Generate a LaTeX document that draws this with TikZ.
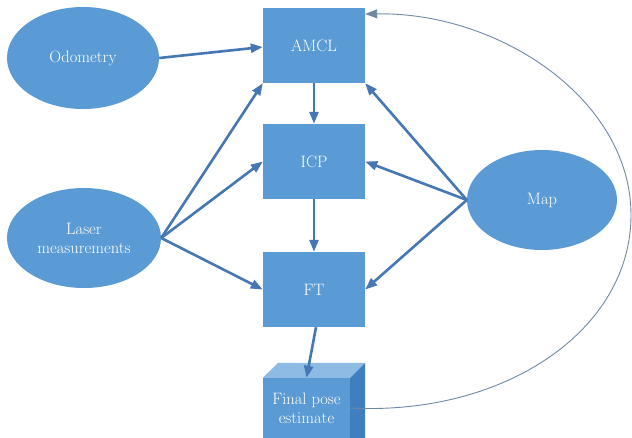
\documentclass[tikz,border=0pt]{standalone}
\usetikzlibrary{arrows.meta,shapes.geometric,calc}
\definecolor{boxblue}{HTML}{5B9BD5}
\definecolor{arrowblue}{HTML}{4677B5}
\definecolor{topblue}{HTML}{8DBBE3}
\definecolor{sideblue}{HTML}{3F7FC0}
\definecolor{arcgrey}{HTML}{6F88A6}
\begin{document}
\begin{tikzpicture}[x=1pt,y=-1pt,
  every node/.style={text=white,font=\fontsize{16.5}{19}\selectfont,align=center,inner sep=0pt},
  ell/.style={ellipse,fill=boxblue,draw=none},
  blk/.style={rectangle,fill=boxblue,draw=none,minimum width=102pt,minimum height=75pt},
  conn/.style={draw=arrowblue,line width=2.6pt,-{Triangle[length=12pt,width=9pt]}},
  feedback/.style={draw=arcgrey,line width=0.9pt,-{Triangle[length=12pt,width=9pt]}}
]
\useasboundingbox (0,0) rectangle (632,437);
\node[ell,minimum width=152pt,minimum height=102pt] (odo) at (83,58) {Odometry};
\node[ell,minimum width=154pt,minimum height=100pt] (laser) at (84,238) {Laser\\measurements};
\node[ell,minimum width=150pt,minimum height=100pt] (map) at (542,200) {Map};
\node[blk] (amcl) at (314,45.5) {AMCL};
\node[blk] (icp) at (314,161.5) {ICP};
\node[blk] (ft) at (314,289.5) {FT};
% cube
\node[rectangle,fill=boxblue,minimum width=87pt,minimum height=60pt] (final) at (306.5,408) {Final pose\\estimate};
\fill[topblue] (final.north west) -- (final.north east) -- ++(15,-15) -- ++(-87,0) -- cycle;
\fill[sideblue] (final.north east) -- ++(15,-15) -- ++(0,75) -- (final.south east) -- cycle;
% connectors
\draw[conn] (odo.east) -- (amcl.west |- 0,47);
\draw[conn] (laser.east) -- (amcl.south west);
\draw[conn] (laser.east) -- (icp.west);
\draw[conn] (laser.east) -- (ft.west);
\draw[conn] (map.west) -- (amcl.south east);
\draw[conn] (map.west) -- (icp.east);
\draw[conn] (map.west) -- (ft.east);
\draw[conn] (amcl.south) -- (icp.north);
\draw[conn] (icp.south) -- (ft.north);
\draw[conn] ($(ft.south)+(2,0)$) -- (final.north);
\coordinate (arcR) at (631,215);
\draw[feedback] (final.east) .. controls (505,416) and (631,330) .. (arcR)
  .. controls (631,100) and (500,12) .. (amcl.north east |- 0,14);
\end{tikzpicture}
\end{document}
